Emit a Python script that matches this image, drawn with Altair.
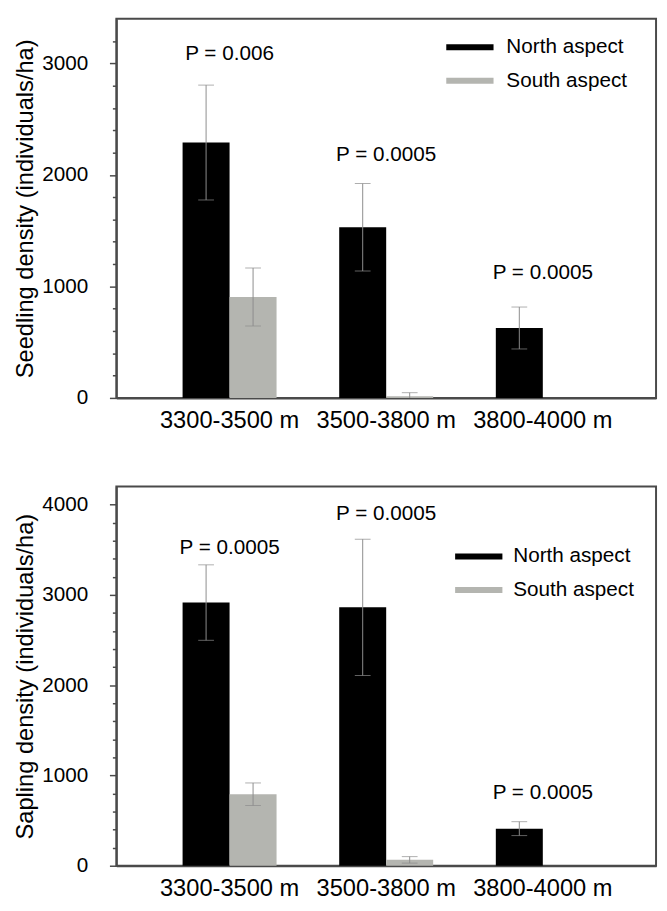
import altair as alt
import pandas as pd

FONT = "Liberation Sans"

groups = ["3300-3500 m", "3500-3800 m", "3800-4000 m"]
aspects = ["North aspect", "South aspect"]
colors = ["#000000", "#b4b5b0"]

seed_north = [2290, 1530, 627]
seed_north_err = [515, 392, 188]
seed_south = [905, 15, 0]
seed_south_err = [260, 32, 0]

sap_north = [2915, 2862, 411]
sap_north_err = [418, 755, 77]
sap_south = [792, 65, 0]
sap_south_err = [125, 36, 0]

seed_p_text = ["P = 0.006", "P = 0.0005", "P = 0.0005"]
seed_p_y = [3080, 2180, 1120]
sap_p_text = ["P = 0.0005", "P = 0.0005", "P = 0.0005"]
sap_p_y = [3520, 3900, 806]

seed_ticks = list(range(0, 3400, 200))
sap_ticks = list(range(0, 4200, 200))


def panel(north, nerr, south, serr, ptext, py, ytitle, ymax, ticks, lx, ly, loff):
    rows = []
    for asp, vals, errs in (("North aspect", north, nerr), ("South aspect", south, serr)):
        for g, v, e in zip(groups, vals, errs):
            rows.append(dict(group=g, aspect=asp, value=v, err=e,
                             lo=max(v - e, 0), hi=v + e))
    df = pd.DataFrame(rows)
    err_df = df[df.err > 0]
    lo_df = err_df[err_df.lo > 0]
    pdf = pd.DataFrame({"group": groups, "label": ptext, "py": py})

    xenc = alt.X("group:N", sort=groups,
                 scale=alt.Scale(paddingInner=0.4, paddingOuter=0.423),
                 axis=alt.Axis(title=None, ticks=False, labelAngle=0,
                               labelFontSize=24, labelPadding=11))
    xoff = alt.XOffset("aspect:N", sort=aspects,
                       scale=alt.Scale(paddingInner=0, paddingOuter=0))
    yscale = alt.Scale(domain=[0, ymax], nice=False, zero=True)
    yaxis = alt.Axis(title=ytitle, values=ticks, format="d",
                     labelExpr="datum.value % 1000 === 0 ? datum.label : ''",
                     labelFontSize={"condition": {"test": "datum.value % 1000 === 0", "value": 21}, "value": 0},
                     tickSize={"condition": {"test": "datum.value % 1000 === 0", "value": 7}, "value": 4},
                     labelPadding=22, titleFontSize=24,
                     titleFontWeight="normal", titlePadding=4, labelOverlap=False)

    def Y(f):
        return alt.Y(f, scale=yscale, axis=yaxis, title=ytitle)

    bars = alt.Chart(df).mark_bar().encode(
        x=xenc, xOffset=xoff, y=Y("value:Q"),
        color=alt.Color("aspect:N",
                        scale=alt.Scale(domain=aspects, range=colors),
                        legend=alt.Legend(title=None, orient="none", legendX=lx, legendY=ly,
                                          symbolType="M-1,-0.125H1V0.125H-1Z",
                                          symbolSize=2304, symbolStrokeWidth=0,
                                          symbolOpacity=1, labelFontSize=21,
                                          labelOffset=loff, rowPadding=-2, padding=0,
                                          labelFont=FONT, labelColor="black")),
    )
    rules = alt.Chart(err_df).mark_rule(color="#8c8c8c", strokeWidth=1).encode(
        x=xenc, xOffset=xoff, y=Y("lo:Q"), y2="hi:Q")
    caps_hi = alt.Chart(err_df).mark_tick(color="#8c8c8c", thickness=1, size=16,
                                          orient="horizontal").encode(
        x=xenc, xOffset=xoff, y=Y("hi:Q"))
    caps_lo = alt.Chart(lo_df).mark_tick(color="#8c8c8c", thickness=1, size=16,
                                         orient="horizontal").encode(
        x=xenc, xOffset=xoff, y=Y("lo:Q"))
    text = alt.Chart(pdf).mark_text(fontSize=21, font=FONT, color="black",
                                    baseline="middle", align="center").encode(
        x=xenc, y=Y("py:Q"), text="label:N")
    return alt.layer(bars, rules, caps_hi, caps_lo, text).properties(width=548, height=385)


top = panel(seed_north, seed_north_err, seed_south, seed_south_err,
            seed_p_text, seed_p_y, "Seedling density (individuals/ha)", 3400,
            seed_ticks, 335, 5, 13)
bottom = panel(sap_north, sap_north_err, sap_south, sap_south_err,
               sap_p_text, sap_p_y, "Sapling density (individuals/ha)", 4200,
               sap_ticks, 344, 47, 11)

chart = alt.vconcat(top, bottom, spacing=53).resolve_scale(
    color="independent", y="independent", x="independent"
).resolve_legend(color="independent").properties(
    padding={"left": 5, "top": 3, "right": 2, "bottom": 0}
).configure_view(
    stroke="#4a4a4a", strokeWidth=2
).configure_axis(
    labelFont=FONT, titleFont=FONT, labelColor="black", titleColor="black",
    domainColor="#4a4a4a", domainWidth=2, tickColor="#4a4a4a", tickWidth=1.5,
    grid=False
)

chart.save("out.html", embed_options={"renderer": "svg", "actions": False})
